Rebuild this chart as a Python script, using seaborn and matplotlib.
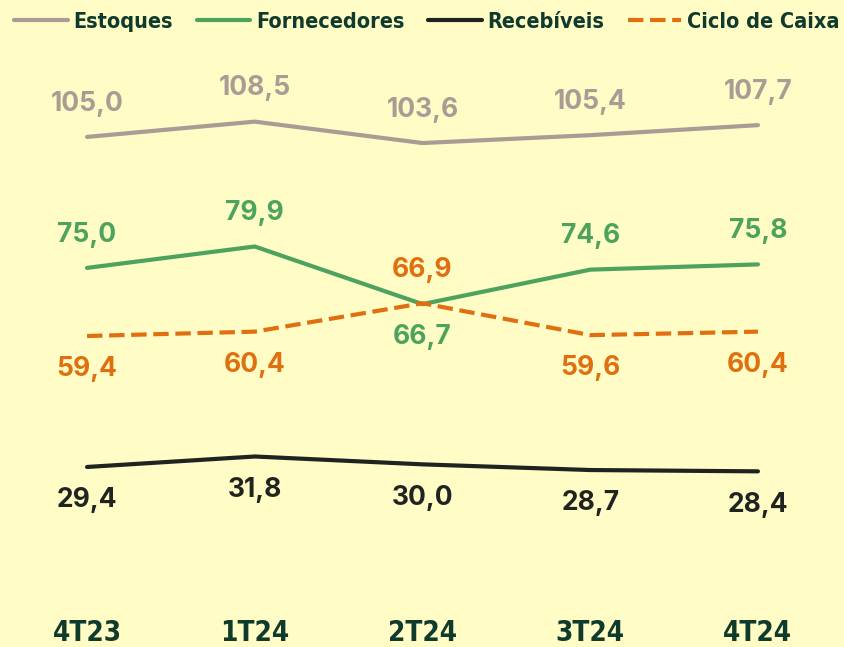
import pandas as pd
import matplotlib.pyplot as plt
import seaborn as sns
from matplotlib import font_manager

quarters = ['4T23', '1T24', '2T24', '3T24', '4T24']
estoques = [105.0, 108.5, 103.6, 105.4, 107.7]
fornecedores = [75.0, 79.9, 66.7, 74.6, 75.8]
recebiveis = [29.4, 31.8, 30.0, 28.7, 28.4]
ciclo = [59.4, 60.4, 66.9, 59.6, 60.4]

# label placement: +1 above the line, -1 below
estoques_pos = [1, 1, 1, 1, 1]
fornecedores_pos = [1, 1, -1, 1, 1]
recebiveis_pos = [-1, -1, -1, -1, -1]
ciclo_pos = [-1, -1, 1, -1, -1]

bg = '#FFFCC6'
dark = '#0F3A2C'

series = [
    ('Estoques', estoques, estoques_pos, '#A89C94', '-'),
    ('Fornecedores', fornecedores, fornecedores_pos, '#4DA35E', '-'),
    ('Recebíveis', recebiveis, recebiveis_pos, '#1F2420', '-'),
    ('Ciclo de Caixa', ciclo, ciclo_pos, '#E0700F', '--'),
]

sns.set_style("white")
plt.rcParams['font.family'] = ['Inter', 'DejaVu Sans']

narrow = font_manager.FontProperties(family='DejaVu Sans', stretch='condensed', weight='bold', size=15.5)
tick_font = font_manager.FontProperties(family='DejaVu Sans', stretch='condensed', weight='bold', size=20)

fig = plt.figure(figsize=(8.45, 6.47), dpi=100, facecolor=bg)
ax = fig.add_axes([0, 47 / 647, 1, 560 / 647])
ax.set_facecolor(bg)

x = list(range(len(quarters)))
for name, vals, pos, color, ls in series:
    df = pd.DataFrame({'x': x, 'y': vals})
    sns.lineplot(data=df, x='x', y='y', ax=ax, color=color, linestyle=ls,
                 linewidth=3, label=name)
    for xi, v, p in zip(x, vals, pos):
        ax.annotate(f'{v:.1f}'.replace('.', ','), (xi, v), xytext=(0, 24 * p),
                    textcoords='offset points', ha='center', va='center',
                    fontsize=19, fontweight='bold', color=color)

ax.set_xlim(-0.519, 4.519)
ax.set_ylim(-1.07, 127.2)
ax.set_xticks(x)
ax.set_xticklabels(quarters)
ax.tick_params(axis='x', length=0, pad=14)
for t in ax.get_xticklabels():
    t.set_fontproperties(tick_font)
    t.set_color(dark)
ax.set_yticks([])
ax.set_xlabel('')
ax.set_ylabel('')
for s in ax.spines.values():
    s.set_visible(False)

leg = ax.legend(loc='upper center', bbox_to_anchor=(0.505, 1.0), bbox_transform=fig.transFigure,
                ncol=4, frameon=False, handlelength=2.5, handletextpad=0.25, columnspacing=1.1,
                prop=narrow, borderaxespad=0.15)
for t in leg.get_texts():
    t.set_color(dark)

fig.savefig('out.png', dpi=100, facecolor=bg)
